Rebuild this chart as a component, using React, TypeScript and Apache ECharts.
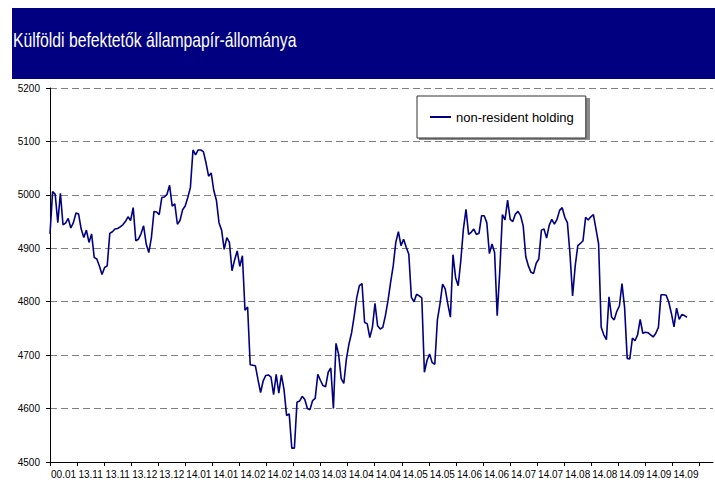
import { useEffect, useRef } from "react";
import * as echarts from "echarts";

const TITLE = "Külföldi befektetők állampapír-állománya";
const SERIES_NAME = "non-resident holding";

const tickLabels = [
  "00.01", "13.11", "13.11", "13.12", "13.12", "14.01", "14.01", "14.02",
  "14.02", "14.03", "14.03", "14.04", "14.04", "14.05", "14.05", "14.06",
  "14.06", "14.07", "14.07", "14.08", "14.08", "14.09", "14.09", "14.09",
];

// non-resident holding (billion HUF), in order
const holdingA = [
  4927, 5006, 5001, 4948, 5003, 4944, 4947, 4956, 4938, 4948, 4966, 4964, 4936, 4920, 4934, 4911,
  4927, 4883, 4880, 4867, 4851, 4864, 4867, 4928, 4931, 4936, 4937, 4940, 4944, 4950, 4959, 4952,
  4976, 4914, 4917, 4927, 4942, 4908, 4892, 4920, 4969, 4968, 4963, 4995, 4996, 5001, 5018, 4979,
  4983, 4945, 4952, 4972, 4979, 4995, 5014, 5084, 5075, 5084, 5084, 5081, 5060, 5035,
];
const holdingB = [
  5041, 5008, 4990, 4948, 4934, 4898, 4920, 4911, 4858, 4878, 4895, 4866, 4886, 4784, 4790, 4682,
  4681, 4680, 4654, 4630, 4652, 4662, 4663, 4659, 4626, 4664, 4629, 4663, 4636, 4587, 4590, 4526,
  4526, 4612, 4614, 4623, 4617, 4600, 4598, 4615, 4619, 4664, 4653, 4643, 4641, 4668, 4676, 4600,
  4722, 4702, 4656, 4647, 4693, 4721, 4742, 4773, 4808, 4830,
];
const holdingC = [
  4834, 4761, 4759, 4733, 4752, 4797, 4755, 4749, 4752, 4774, 4802, 4836, 4867, 4911, 4931, 4905,
  4917, 4902, 4889, 4808, 4800, 4814, 4811, 4807, 4668, 4690, 4702, 4686, 4683, 4766, 4796, 4833,
  4824, 4796, 4771, 4888, 4845, 4830, 4877, 4936, 4973, 4926, 4930, 4936, 4926, 4928, 4961, 4961,
  4948, 4890, 4908, 4892, 4774, 4858, 4963, 4953, 4990, 4954, 4950, 4964, 4969, 4961,
];
const holdingD = [
  4942, 4884, 4867, 4855, 4853, 4872, 4880, 4934, 4936, 4919, 4943, 4954, 4945, 4954, 4971, 4976,
  4958, 4948, 4889, 4811, 4867, 4905, 4909, 4914, 4958, 4953, 4959, 4963, 4936, 4908, 4752, 4738,
  4729, 4809, 4771, 4766, 4782, 4792, 4834, 4789, 4694, 4693, 4732, 4727, 4738, 4767, 4741, 4743,
  4742, 4738, 4734, 4741, 4752, 4813, 4813, 4812, 4799, 4778, 4753, 4788, 4767, 4776, 4774, 4771,
];

const Y_MIN = 4500;
const Y_MAX = 5200;
const Y_STEP = 100;

export default function App() {
  const ref = useRef<HTMLDivElement>(null);

  useEffect(() => {
    if (!ref.current) return;
    const chart = echarts.init(ref.current, null, { renderer: "svg" });
    const font = "'Liberation Sans', Arial, sans-serif";
    const holding = [...holdingA, ...holdingB, ...holdingC, ...holdingD];
    const tickPositions = tickLabels.map((_, i) => i).concat([tickLabels.length]);
    const labelPositions = tickLabels.map((_, i) => i + 0.5);

    chart.setOption({
      animation: false,
      backgroundColor: "#ffffff",
      graphic: [
        {
          type: "rect",
          silent: true,
          shape: { x: 12, y: 8, width: 703, height: 71 },
          style: { fill: "#000080" },
        },
        {
          type: "text",
          silent: true,
          x: 13,
          y: 40,
          scaleX: 0.75,
          style: {
            text: TITLE,
            fill: "#ffffff",
            fontSize: 21,
            fontFamily: font,
            verticalAlign: "middle",
          },
        },
        {
          type: "rect",
          silent: true,
          shape: { x: 419, y: 98, width: 171, height: 42 },
          style: { fill: "#8a8a8a" },
        },
      ],
      legend: {
        data: [{ name: SERIES_NAME, icon: "rect" }],
        left: 417,
        top: 96,
        padding: [13, 12, 13, 13],
        itemWidth: 21,
        itemHeight: 2,
        backgroundColor: "#ffffff",
        borderColor: "#303030",
        borderWidth: 1,
        textStyle: { fontFamily: font, fontSize: 13, color: "#000", lineHeight: 16 },
      },
      grid: { left: 50, right: 2, top: 88, bottom: 22 },
      xAxis: [
        {
          type: "value",
          min: 0,
          max: 255,
          show: false,
          position: "top",
          splitLine: { show: false },
        },
        {
          type: "value",
          min: 0,
          max: 24.5,
          position: "bottom",
          axisLine: { show: true, onZero: false, lineStyle: { color: "#000", width: 1 } },
          axisTick: {
            show: true,
            length: 4,
            customValues: tickPositions,
            lineStyle: { color: "#000" },
          },
          axisLabel: {
            customValues: labelPositions,
            formatter: (v: number) => tickLabels[Math.floor(v)] ?? "",
            fontFamily: font,
            fontSize: 10,
            color: "#000",
            margin: 7,
          },
          splitLine: { show: false },
        },
      ],
      yAxis: {
        type: "value",
        min: Y_MIN,
        max: Y_MAX,
        interval: Y_STEP,
        axisLine: { show: true, lineStyle: { color: "#000", width: 1 } },
        axisTick: { show: true, length: 4, lineStyle: { color: "#000" } },
        axisLabel: {
          fontFamily: font,
          fontSize: 10,
          color: "#000",
          margin: 10,
          formatter: (v: number) => String(v),
        },
        splitLine: { show: true, lineStyle: { color: "#808080", type: [7, 4], width: 1 } },
      },
      series: [
        {
          type: "line",
          name: SERIES_NAME,
          xAxisIndex: 0,
          data: holding.map((v, i) => [i, v]),
          symbol: "none",
          showSymbol: false,
          lineStyle: { color: "#000080", width: 1.6 },
          itemStyle: { color: "#000080" },
        },
      ],
    });

    return () => chart.dispose();
  }, []);

  return (
    <div
      ref={ref}
      style={{ position: "fixed", left: 0, top: 0, width: 715, height: 484 }}
    />
  );
}
